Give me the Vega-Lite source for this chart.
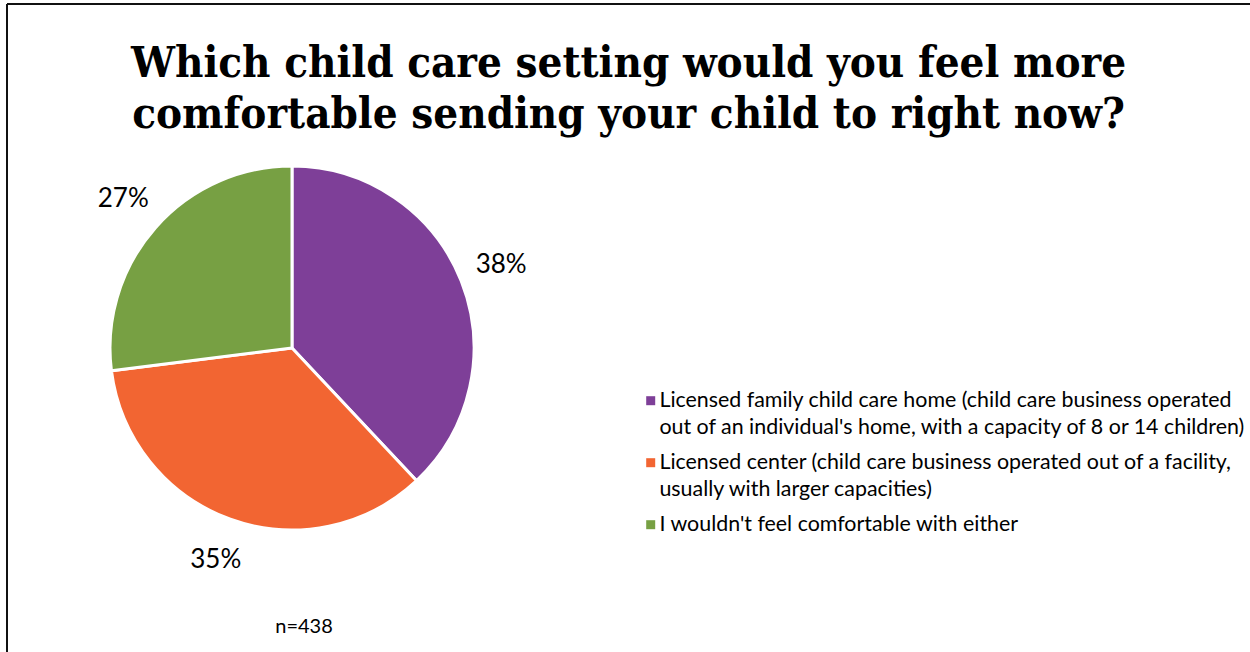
{
  "$schema": "https://vega.github.io/schema/vega-lite/v6.json",
  "width": 1243,
  "height": 648,
  "padding": {"left": 7, "top": 4, "right": 0, "bottom": 0},
  "autosize": {"type": "none"},
  "background": "white",
  "config": {
    "view": {"stroke": null},
    "style": {"guide-label": {"lineHeight": 27}}
  },
  "datasets": {
    "pie": [
      {"setting": "Licensed family child care home (child care business operated\nout of an individual's home, with a capacity of 8 or 14 children)", "pct": 38, "label": "38%"},
      {"setting": "Licensed center (child care business operated out of a facility,\nusually with larger capacities)", "pct": 35, "label": "35%"},
      {"setting": "I wouldn't feel comfortable with either", "pct": 27, "label": "27%"}
    ],
    "note": [{"note": "n=438"}],
    "heading": [{"heading": "Which child care setting would you feel more\ncomfortable sending your child to right now?"}],
    "frame": [{"edge": "frame"}]
  },
  "layer": [
    {
      "data": {"name": "frame"},
      "mark": {"type": "rule", "color": "#111111", "strokeWidth": 2},
      "encoding": {
        "x": {"value": 0},
        "x2": {"value": "width"},
        "y": {"value": 0}
      }
    },
    {
      "data": {"name": "frame"},
      "mark": {"type": "rule", "color": "#111111", "strokeWidth": 2},
      "encoding": {
        "x": {"value": 0},
        "y": {"value": 0},
        "y2": {"value": "height"}
      }
    },
    {
      "data": {"name": "heading"},
      "mark": {"type": "text", "x": {"expr": "width/2"}, "y": 73, "align": "center", "baseline": "alphabetic", "lineBreak": "\n", "lineHeight": 51, "font": "DejaVu Serif Condensed, DejaVu Serif", "fontWeight": "bold", "fontSize": 43.5, "fill": "#000000"},
      "encoding": {"text": {"field": "heading", "type": "nominal"}}
    },
    {
      "data": {"name": "pie"},
      "mark": {"type": "arc", "x": 285, "y": 344, "outerRadius": 182, "stroke": "white", "strokeWidth": 3},
      "encoding": {
        "theta": {"field": "pct", "type": "quantitative", "stack": true},
        "order": {"field": "pct", "type": "quantitative", "sort": "descending"},
        "color": {
          "field": "setting",
          "type": "nominal",
          "sort": null,
          "scale": {
            "domain": [
              "Licensed family child care home (child care business operated\nout of an individual's home, with a capacity of 8 or 14 children)",
              "Licensed center (child care business operated out of a facility,\nusually with larger capacities)",
              "I wouldn't feel comfortable with either"
            ],
            "range": ["#7E3F98", "#F26532", "#77A043"]
          },
          "legend": {
            "title": null,
            "orient": "none",
            "legendX": 633,
            "legendY": 386,
            "symbolType": "square",
            "symbolSize": 81,
            "symbolStrokeWidth": 0,
            "labelFont": "Lato",
            "labelFontSize": 21.4,
            "labelColor": "#000000",
            "labelLimit": 0,
            "labelOffset": -2,
            "rowPadding": 12,
            "labelExpr": "split(datum.label, '\\n')"
          }
        }
      }
    },
    {
      "data": {"name": "pie"},
      "mark": {"type": "text", "x": 285, "y": 344, "radius": 225, "font": "Lato", "fontSize": 26, "fill": "#000000"},
      "encoding": {
        "theta": {"field": "pct", "type": "quantitative", "stack": true},
        "order": {"field": "pct", "type": "quantitative", "sort": "descending"},
        "detail": {"field": "setting", "type": "nominal"},
        "text": {"field": "label", "type": "nominal"}
      }
    },
    {
      "data": {"name": "note"},
      "mark": {"type": "text", "x": 297, "y": 623, "font": "Lato", "fontSize": 20, "fill": "#000000"},
      "encoding": {"text": {"field": "note", "type": "nominal"}}
    }
  ]
}
